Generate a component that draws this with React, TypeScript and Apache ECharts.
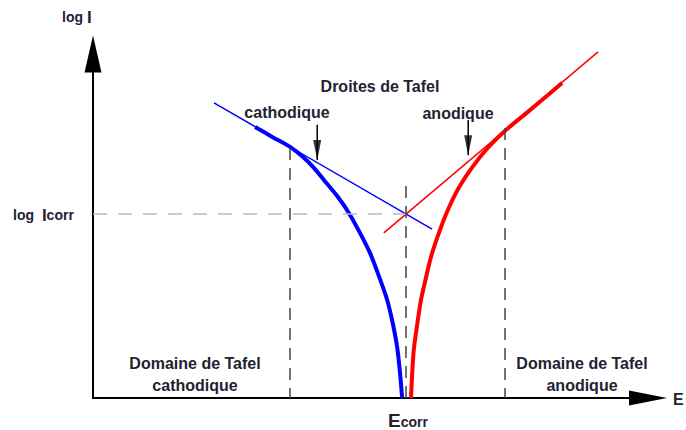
import React, { useEffect, useRef } from "react";
import * as echarts from "echarts";

// Potential E (arbitrary units) and log I (arbitrary units)
const cathodicE = [2.92, 3.23, 3.55, 3.78, 3.98, 4.16, 4.4, 4.61, 4.81, 4.99, 5.15, 5.3, 5.4, 5.48, 5.53, 5.57];
const cathodicLogI = [7.88, 7.59, 7.3, 7.01, 6.69, 6.34, 5.87, 5.38, 4.8, 4.22, 3.55, 2.85, 2.18, 1.48, 0.76, 0];
const anodicE = [5.73, 5.75, 5.78, 5.84, 5.91, 5.99, 6.09, 6.22, 6.37, 6.57, 6.8, 7.08, 7.42, 7.77, 8.09, 8.45];
const anodicLogI = [0, 0.67, 1.4, 2.12, 2.85, 3.43, 4.1, 4.74, 5.38, 6.05, 6.63, 7.21, 7.76, 8.23, 8.66, 9.16];
const tafelCathE = [2.18, 6.11];
const tafelCathLogI = [8.58, 4.91];
const tafelAnE = [5.24, 9.1];
const tafelAnLogI = [4.8, 10.06];
const Ecorr = 5.64;
const logIcorr = 5.35;
const EcorrTop = 6.16;
const cathDomainE = 3.55;
const cathDomainTop = 7.27;
const anDomainE = 7.42;
const anDomainTop = 7.85;
const cathArrowE = 4.04;
const cathArrowLogI = [7.94, 6.92];
const anArrowE = 6.76;
const anArrowLogI = [8.08, 7.06];

const FONT = '"Liberation Sans", Arial, sans-serif';
const TXT = "#222233";

const zip = (xs: number[], ys: number[]) => xs.map((x, i) => [x, ys[i]]);

function textEl(x: number, y: number, text: string, extra: any = {}) {
  return {
    type: "text",
    x,
    y,
    style: {
      text,
      fill: TXT,
      font: `bold 16px ${FONT}`,
      align: "center",
      textAlign: "center",
      verticalAlign: "middle",
      textVerticalAlign: "middle",
      ...extra,
    },
  };
}

export default function App() {
  const ref = useRef<HTMLDivElement>(null);
  useEffect(() => {
    if (!ref.current) return;
    const chart = echarts.init(ref.current, null, { renderer: "svg" });
    const dashed = { color: "#444", width: 1.5, type: [12, 8] as any };
    const arrowHead = "path://M0,0 L10,0 L5,28 Z";
    chart.setOption({
      animation: false,
      backgroundColor: "#fff",
      grid: { left: 93, top: 54, width: 555, height: 344 },
      xAxis: {
        type: "value",
        min: 0,
        max: 10,
        axisLine: {
          show: true,
          onZero: false,
          symbol: ["none", "triangle"],
          symbolSize: [15, 38],
          lineStyle: { color: "#000", width: 2 },
        },
        axisTick: { show: false },
        axisLabel: { show: false },
        splitLine: { show: false },
      },
      yAxis: {
        type: "value",
        min: 0,
        max: 10,
        axisLine: {
          show: true,
          onZero: false,
          symbol: ["none", "triangle"],
          symbolSize: [17, 37],
          lineStyle: { color: "#000", width: 2 },
        },
        axisTick: { show: false },
        axisLabel: { show: false },
        splitLine: { show: false },
      },
      series: [
        {
          type: "line",
          data: [],
          silent: true,
          markLine: {
            silent: true,
            symbol: ["none", "none"],
            label: { show: false },
            data: [
              [
                { coord: [0, logIcorr], lineStyle: { color: "#bbb", width: 1.5, type: [14, 11] } },
                { coord: [Ecorr, logIcorr] },
              ],
              [{ coord: [cathDomainE, cathDomainTop], lineStyle: dashed }, { coord: [cathDomainE, 0] }],
              [{ coord: [Ecorr, EcorrTop], lineStyle: dashed }, { coord: [Ecorr, 0] }],
              [{ coord: [anDomainE, anDomainTop], lineStyle: dashed }, { coord: [anDomainE, 0] }],
            ],
          },
        },
        {
          type: "line",
          data: zip(cathodicE, cathodicLogI),
          smooth: 0.3,
          showSymbol: false,
          lineStyle: { color: "#0000ff", width: 4 },
        },
        {
          type: "line",
          data: zip(anodicE, anodicLogI),
          smooth: 0.3,
          showSymbol: false,
          lineStyle: { color: "#ff0000", width: 4 },
        },
        {
          type: "line",
          data: zip(tafelCathE, tafelCathLogI),
          showSymbol: false,
          clip: false,
          lineStyle: { color: "#0000ff", width: 1.5 },
        },
        {
          type: "line",
          data: zip(tafelAnE, tafelAnLogI),
          showSymbol: false,
          clip: false,
          lineStyle: { color: "#ff0000", width: 1.5 },
        },
        {
          type: "line",
          data: zip([cathArrowE, cathArrowE], cathArrowLogI),
          showSymbol: false,
          lineStyle: { color: "#000", width: 1.5 },
        },
        {
          type: "line",
          data: zip([anArrowE, anArrowE], anArrowLogI),
          showSymbol: false,
          lineStyle: { color: "#000", width: 1.5 },
        },
        {
          type: "scatter",
          data: [
            [cathArrowE, cathArrowLogI[1]],
            [anArrowE, anArrowLogI[1]],
          ],
          symbol: arrowHead,
          symbolSize: [8, 20],
          symbolOffset: [0, "-50%"],
          itemStyle: { color: "#000" },
        },
      ],
      graphic: [
        {
          type: "text",
          x: 62,
          y: 17,
          style: {
            text: "{a|log }{b|I}",
            fill: TXT,
            align: "left",
            textAlign: "left",
            verticalAlign: "middle",
            textVerticalAlign: "middle",
            rich: {
              a: { font: `bold 14px ${FONT}`, fill: TXT },
              b: { font: `bold 17px ${FONT}`, fill: TXT },
            },
          },
        },
        {
          type: "text",
          x: 13,
          y: 215,
          style: {
            text: "{a|log }{b|I}{c|corr}",
            fill: TXT,
            align: "left",
            textAlign: "left",
            verticalAlign: "middle",
            textVerticalAlign: "middle",
            rich: {
              a: { font: `bold 14px ${FONT}`, fill: TXT, padding: [0, 4, 0, 0] },
              b: { font: `bold 17px ${FONT}`, fill: TXT },
              c: { font: `bold 14px ${FONT}`, fill: TXT },
            },
          },
        },
        {
          type: "text",
          x: 408,
          y: 420,
          style: {
            text: "{e|E}{c|corr}",
            fill: TXT,
            align: "center",
            textAlign: "center",
            verticalAlign: "middle",
            textVerticalAlign: "middle",
            rich: {
              e: { font: `bold 19px ${FONT}`, fill: TXT },
              c: { font: `bold 14px ${FONT}`, fill: TXT, padding: [4, 0, 0, 0] },
            },
          },
        },
        textEl(673, 399, "E", { align: "left", textAlign: "left", font: `bold 16px ${FONT}` }),
        textEl(380, 86, "Droites de Tafel"),
        textEl(287, 112, "cathodique"),
        textEl(458, 113, "anodique"),
        textEl(195, 374, "Domaine de Tafel\ncathodique", { lineHeight: 22 }),
        textEl(582, 374, "Domaine de Tafel\nanodique", { lineHeight: 22 }),
      ],
    });
    return () => chart.dispose();
  }, []);
  return (
    <div
      ref={ref}
      style={{ position: "absolute", left: 0, top: 0, width: 686, height: 430 }}
    />
  );
}
